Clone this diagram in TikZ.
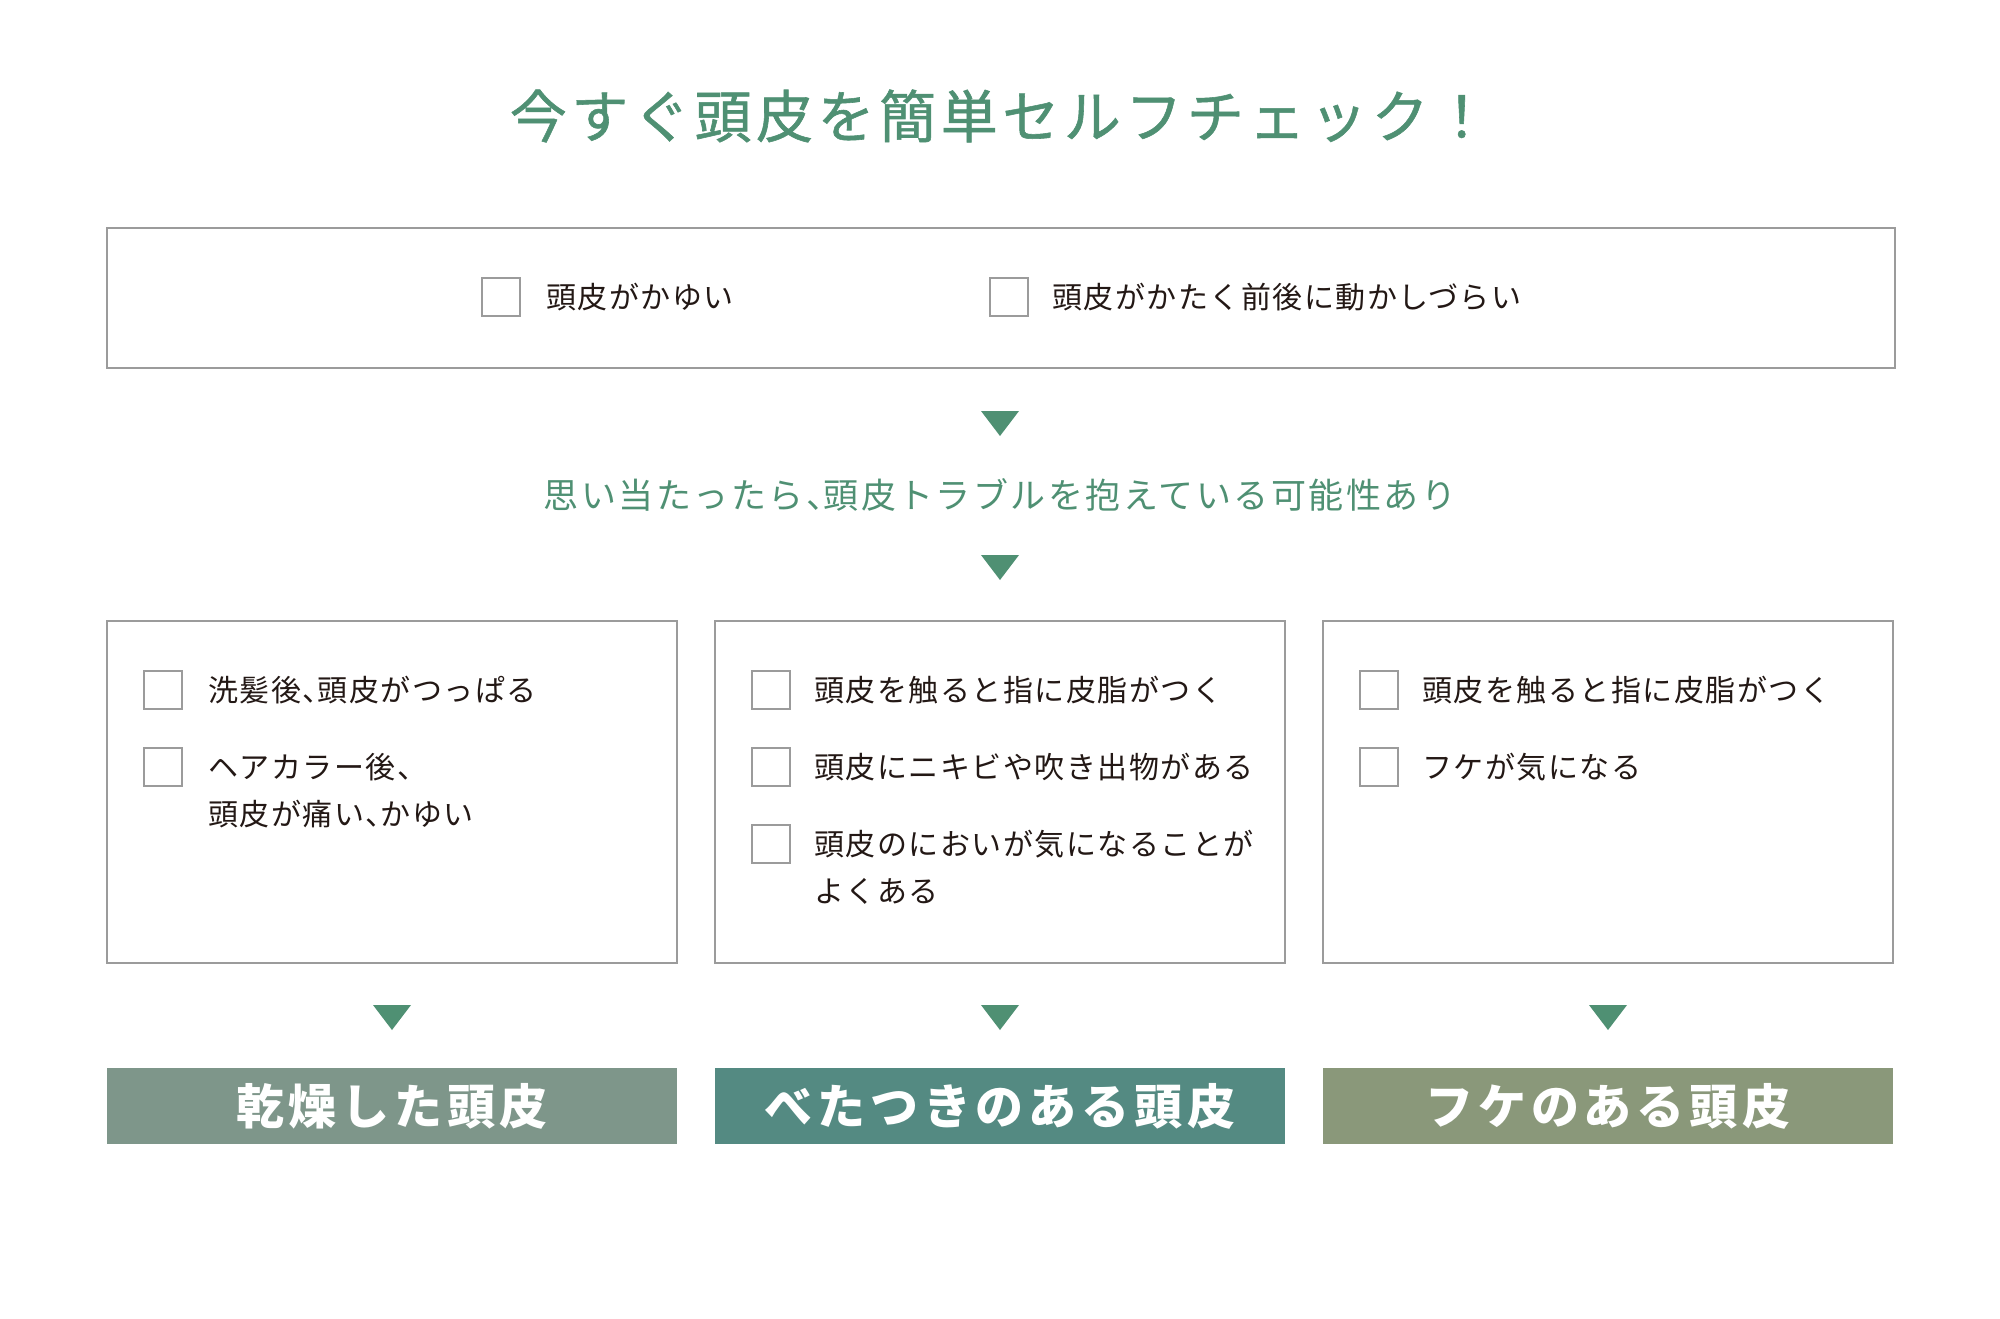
\documentclass[tikz,border=0pt]{standalone}
\usepackage{fontspec}
\setmainfont{Noto Sans CJK JP}
\usetikzlibrary{positioning}

\definecolor{leafgreen}{HTML}{4F9073}
\definecolor{framegray}{HTML}{9B9B9B}
\definecolor{inkblack}{HTML}{231815}
\definecolor{drygreen}{HTML}{7E968A}
\definecolor{oilygreen}{HTML}{548A82}
\definecolor{flakegreen}{HTML}{8A987A}

\newcommand{\titlefont}{\fontsize{57}{64}\selectfont\addfontfeatures{LetterSpace=8,FakeBold=1}}
\newcommand{\leadfont}{\fontsize{35}{42}\selectfont\addfontfeatures{LetterSpace=7}}
\newcommand{\itemfont}{\fontsize{30}{47}\selectfont\addfontfeatures{LetterSpace=5}}
\newcommand{\resultfont}{\fontsize{48}{56}\selectfont\bfseries\addfontfeatures{LetterSpace=10}}
\newcommand{\ten}{、\kern-.5em}
\newcommand{\twolines}[2]{\begin{tabular}[t]{@{}l@{}}#1\\#2\end{tabular}}
\newcommand{\downtri}[1]{\fill[leafgreen] (#1) ++(-19,0) -- ++(38,0) -- ++(-19,-25) -- cycle;}

\begin{document}
\begin{tikzpicture}[x=1pt,y=1pt,
    panel/.style={draw=framegray, line width=2pt, minimum width=570pt,
        minimum height=342pt, inner sep=0, anchor=north west},
    tick/.style={draw=framegray, line width=2pt, minimum size=38pt, inner sep=0},
    item/.style={anchor=base west, text=inkblack, font=\itemfont, inner sep=0},
    result/.style={minimum width=570pt, minimum height=76pt, inner sep=0,
        text=white, font=\resultfont}]

\useasboundingbox (0,0) rectangle (2000,-1318);

% Title
\node[text=leafgreen, font=\titlefont] (title) at (1000,-116) {今すぐ頭皮を簡単セルフチェック！};

% Common checks
\node[draw=framegray, line width=2pt,
    minimum width=1788pt,
    minimum height=140pt,
    inner sep=0, anchor=north west] (common) at (106,-227) {};

\node[tick] (cbA) at (501,-297) {};
\node[item] (itA) at ([xshift=45pt,yshift=-11pt]cbA.center) {頭皮がかゆい};
\node[tick] (cbB) at (1009,-297) {};
\node[item] (itB) at ([xshift=43pt,yshift=-11pt]cbB.center) {頭皮がかたく前後に動かしづらい};

\coordinate (triA) at (1000,-411);
\downtri{triA}

% Lead text
\node[text=leafgreen, font=\leadfont] (lead) at (1000,-495)
    {思い当たったら\ten 頭皮トラブルを抱えている可能性あり};

\coordinate (triB) at (1000,-555);
\downtri{triB}

% Three panels
\node[panel] (dry) at (106,-620) {};
\node[panel, right=36pt of dry] (oily) {};
\node[panel, right=36pt of oily] (flake) {};

% Dry
\node[tick] (cb11) at ([xshift=57pt,yshift=-70pt]dry.north west) {};
\node[item] (it11) at ([xshift=45pt,yshift=-11pt]cb11.center) {洗髪後\ten 頭皮がつっぱる};
\node[tick] (cb12) at ([xshift=57pt,yshift=-147pt]dry.north west) {};
\node[item] (it12) at ([xshift=45pt,yshift=-11pt]cb12.center) {\twolines{ヘアカラー後\ten}{頭皮が痛い\ten かゆい}};

% Oily
\node[tick] (cb21) at ([xshift=57pt,yshift=-70pt]oily.north west) {};
\node[item] (it21) at ([xshift=43pt,yshift=-11pt]cb21.center) {頭皮を触ると指に皮脂がつく};
\node[tick] (cb22) at ([xshift=57pt,yshift=-147pt]oily.north west) {};
\node[item] (it22) at ([xshift=43pt,yshift=-11pt]cb22.center) {頭皮にニキビや吹き出物がある};
\node[tick] (cb23) at ([xshift=57pt,yshift=-224pt]oily.north west) {};
\node[item] (it23) at ([xshift=43pt,yshift=-11pt]cb23.center) {\twolines{頭皮のにおいが気になることが}{よくある}};

% Flaky
\node[tick] (cb31) at ([xshift=57pt,yshift=-70pt]flake.north west) {};
\node[item] (it31) at ([xshift=43pt,yshift=-11pt]cb31.center) {頭皮を触ると指に皮脂がつく};
\node[tick] (cb32) at ([xshift=57pt,yshift=-147pt]flake.north west) {};
\node[item] (it32) at ([xshift=43pt,yshift=-11pt]cb32.center) {フケが気になる};

% Results
\node[result, fill=drygreen, below=104pt of dry] (res1) {乾燥した頭皮};
\node[result, fill=oilygreen, below=104pt of oily] (res2) {べたつきのある頭皮};
\node[result, fill=flakegreen, below=104pt of flake] (res3) {フケのある頭皮};

\coordinate (tri1) at ([yshift=-41pt]dry.south);
\coordinate (tri2) at ([yshift=-41pt]oily.south);
\coordinate (tri3) at ([yshift=-41pt]flake.south);
\downtri{tri1}
\downtri{tri2}
\downtri{tri3}

\end{tikzpicture}
\end{document}
